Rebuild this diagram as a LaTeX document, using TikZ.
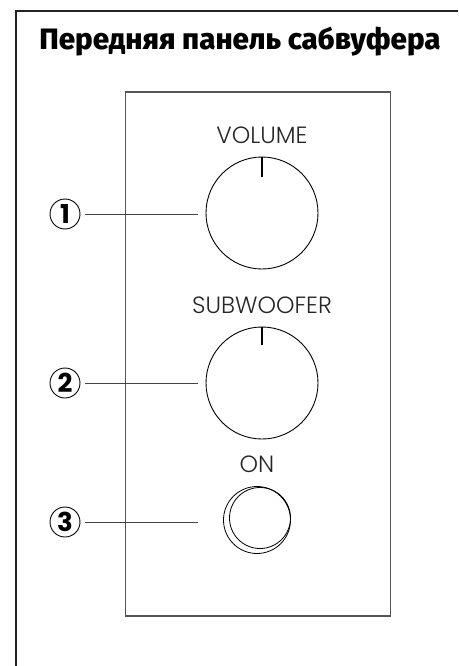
\documentclass[tikz,border=0pt]{standalone}
\usepackage{fontspec}
\usepackage{xcolor}
\usepackage{tikz}
\usetikzlibrary{positioning,calc}
\newfontfamily\titlefont{Fira Sans}[BoldFont=* ExtraBold]
\newfontfamily\labelfont{Poppins}[UprightFont=* Light, BoldFont=* Bold]

\definecolor{framegray}{HTML}{222222}
\definecolor{panelgray}{HTML}{555555}
\definecolor{leadgray}{HTML}{444444}

\tikzset{
  knob/.style={draw=black, line width=0.9pt, circle, minimum size=112pt, inner sep=0pt},
  tag/.style={font=\labelfont\fontsize{23.5}{23.5}\selectfont, text=black!85, inner sep=0pt},
  callout/.style={draw=black, line width=0.9pt, circle, minimum size=30pt, inner sep=0pt,
    font=\labelfont\bfseries\fontsize{26}{26}\selectfont},
  leader/.style={draw=leadgray, line width=0.9pt}
}

\begin{document}
\begin{tikzpicture}[x=1pt, y=-1pt]
    \useasboundingbox (0,0) rectangle (458,666);

    % outer frame
    \draw [framegray, line width=2.6pt] (16,666) -- (16,11) -- (458,11);
    \node [font=\titlefont\bfseries\fontsize{29.5}{29.5}\selectfont, inner sep=0pt] (title) at (240,42) {Передняя панель сабвуфера};

    % panel
    \draw [panelgray, line width=1.5pt] (125.5,92) rectangle (390.5,616);

    % controls
    \node [knob] (vol) at (262,213) {};
    \draw [line width=1.4pt] (vol.north) -- ++(0,20);
    \node [tag, above=13pt of vol] (volt) {VOLUME};

    \node [knob] (sub) at (262,383) {};
    \draw [line width=1.4pt] (sub.north) -- ++(0,18);
    \node [tag, above=13pt of sub] (subt) {SUBWOOFER};

    \node [draw, circle, line width=0.8pt, minimum size=67pt, inner sep=0pt] (onbtn) at (257,520) {};
    \node [draw, circle, line width=0.8pt, minimum size=61pt, inner sep=0pt] (onin) at (260,518) {};
    \node [tag, above=13pt of onbtn] (ont) {ON};

    % callouts
    \node [callout] (c1) at (65,214) {1};
    \node [callout] (c2) at (65,383) {2};
    \node [callout] (c3) at (65,522) {3};

    \draw [leader, shorten <=5pt, shorten >=8pt] (c1) -- (c1 -| vol.west);
    \draw [leader, shorten <=5pt, shorten >=8pt] (c2) -- (c2 -| sub.west);
    \draw [leader, shorten <=5pt, shorten >=25pt] (c3) -- (c3 -| onbtn.west);
\end{tikzpicture}
\end{document}
